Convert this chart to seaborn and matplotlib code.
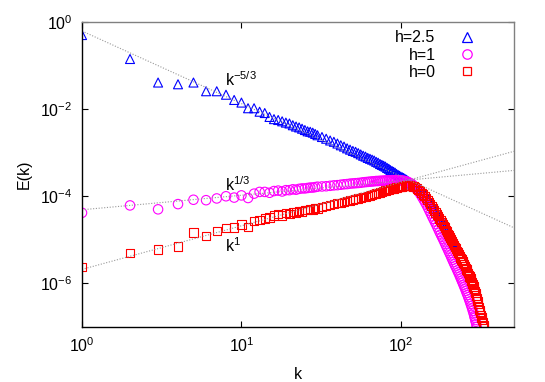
import numpy as np
import pandas as pd
import matplotlib
matplotlib.use("Agg")
import matplotlib.pyplot as plt
from matplotlib.lines import Line2D
import seaborn as sns

# wavenumbers (integer shells) and energy spectra, stored as log10 E
k_h25 = list(range(1, 31)) + list(range(32, 113, 2)) + list(range(115, 221, 3))
logE_h25 = [
    -0.30, -0.85, -1.39, -1.43, -1.39, -1.59, -1.59, -1.67, -1.79, -1.85,
    -1.98, -1.98, -2.06, -2.09, -2.18, -2.23, -2.25, -2.28, -2.31, -2.33,
    -2.37, -2.40, -2.42, -2.45, -2.48, -2.51, -2.52, -2.54, -2.57, -2.60,
    # 32 .. 112
    -2.64, -2.68, -2.72, -2.75, -2.79, -2.83, -2.86, -2.90, -2.93, -2.96,
    -2.98, -3.01, -3.04, -3.07, -3.09, -3.12, -3.14, -3.16, -3.18, -3.21,
    -3.23, -3.26, -3.28, -3.30, -3.32, -3.35, -3.37, -3.40, -3.42, -3.44,
    -3.46, -3.49, -3.51, -3.53, -3.55, -3.565, -3.58, -3.60, -3.62, -3.64,
    -3.66,
    # 115 .. 220
    -3.70, -3.735, -3.76, -3.775, -3.795, -3.82, -3.855, -3.89, -3.93, -3.97,
    -4.01, -4.055, -4.10, -4.15, -4.20, -4.25, -4.30, -4.34, -4.39, -4.43,
    -4.48, -4.52, -4.56, -4.61, -4.65, -4.69, -4.74, -4.78, -4.83, -4.87,
    -4.92, -4.96, -5.00, -5.05, -5.09, -5.13,
]

k_h1 = (list(range(1, 31)) + list(range(32, 113, 2)) + list(range(115, 290, 3))
        + [291, 293, 295, 297, 299])
logE_h1 = [
    -4.38, -4.21, -4.30, -4.18, -4.08, -4.09, -4.05, -4.00, -4.03, -3.98,
    -4.04, -3.94, -3.90, -3.90, -3.92, -3.88, -3.87, -3.89, -3.86, -3.86,
    -3.84, -3.85, -3.83, -3.82, -3.82, -3.81, -3.80, -3.80, -3.79, -3.78,
    # 32 .. 112
    -3.775, -3.77, -3.76, -3.75, -3.745, -3.735, -3.725, -3.72, -3.71, -3.705,
    -3.70, -3.695, -3.69, -3.68, -3.675, -3.67, -3.665, -3.66, -3.655, -3.65,
    -3.65, -3.645, -3.645, -3.64, -3.64, -3.635, -3.635, -3.635, -3.63, -3.63,
    -3.63, -3.63, -3.63, -3.635, -3.635, -3.64, -3.645, -3.65, -3.66, -3.67,
    -3.68,
    # 115 .. 289
    -3.70, -3.73, -3.77, -3.81, -3.855, -3.905, -3.96, -4.02, -4.08, -4.14,
    -4.20, -4.265, -4.33, -4.395, -4.46, -4.52, -4.58, -4.64, -4.70, -4.76,
    -4.82, -4.875, -4.93, -4.985, -5.04, -5.095, -5.15, -5.20, -5.255, -5.305,
    -5.355, -5.41, -5.46, -5.51, -5.56, -5.605, -5.65, -5.70, -5.745, -5.79,
    -5.84, -5.885, -5.935, -5.98, -6.03, -6.075, -6.12, -6.17, -6.22, -6.265,
    -6.315, -6.365, -6.415, -6.47, -6.52, -6.575, -6.63, -6.69, -6.75,
    # 291 .. 299
    -6.79, -6.84, -6.88, -6.93, -7.00,
]

k_h0 = list(range(1, 31)) + list(range(32, 113, 2)) + list(range(114, 331, 3)) + [332]
logE_h0 = [
    -5.62, -5.30, -5.22, -5.15, -4.83, -4.91, -4.80, -4.73, -4.72, -4.65,
    -4.70, -4.57, -4.54, -4.51, -4.49, -4.44, -4.40, -4.44, -4.39, -4.41,
    -4.36, -4.37, -4.34, -4.35, -4.31, -4.32, -4.29, -4.30, -4.27, -4.28,
    # 32 .. 112
    -4.25, -4.23, -4.20, -4.18, -4.16, -4.15, -4.13, -4.11, -4.10, -4.08,
    -4.06, -4.05, -4.04, -4.02, -4.01, -3.995, -3.98, -3.965, -3.95, -3.935,
    -3.92, -3.91, -3.90, -3.885, -3.87, -3.86, -3.85, -3.84, -3.83, -3.82,
    -3.81, -3.80, -3.79, -3.785, -3.78, -3.775, -3.77, -3.76, -3.755, -3.75,
    -3.75,
    # 114 .. 330, 332
    -3.75, -3.76, -3.775, -3.795, -3.82, -3.85, -3.885, -3.92, -3.96, -4.00,
    -4.04, -4.085, -4.13, -4.18, -4.23, -4.28, -4.33, -4.37, -4.42, -4.46,
    -4.51, -4.55, -4.59, -4.64, -4.68, -4.72, -4.77, -4.81, -4.86, -4.90,
    -4.95, -4.99, -5.03, -5.08, -5.12, -5.16, -5.20, -5.25, -5.29, -5.33,
    -5.37, -5.41, -5.45, -5.48, -5.52, -5.56, -5.60, -5.64, -5.68, -5.72,
    -5.76, -5.80, -5.84, -5.88, -5.93, -5.97, -6.02, -6.07, -6.12, -6.17,
    -6.22, -6.28, -6.34, -6.41, -6.48, -6.54, -6.61, -6.67, -6.72, -6.78,
    -6.84, -6.90, -6.95, -6.98,
]

series_labels = ["h=2.5", "h=1", "h=0"]
series_colors = ["#0000ff", "#ff00ff", "#ff0000"]
series_markers = ["^", "o", "s"]
series_sizes = [42, 46, 36]

# power-law guide lines: amplitude * k**exponent
guide_amp = [0.62, 4.9e-5, 2.1e-6]
guide_exp = [-5 / 3, 1 / 3, 1.0]
guide_k = [1, 512]
guide_text = [r"$\mathrm{k^{-5/3}}$", r"$\mathrm{k^{1/3}}$", r"$\mathrm{k^{1}}$"]
guide_text_pos = [(7.9, 0.034), (7.9, 1.3e-4), (7.9, 5.3e-6)]

plt.rcParams["font.family"] = ["Liberation Sans", "DejaVu Sans"]
plt.rcParams["mathtext.fontset"] = "custom"
plt.rcParams["mathtext.rm"] = "Liberation Sans"
plt.rcParams["mathtext.it"] = "Liberation Sans"
plt.rcParams["font.size"] = 11.5

fig = plt.figure(figsize=(5.45, 3.82), dpi=100)
ax = fig.add_axes([0.1505, 0.144, 0.7925, 0.7985])

for amp, ex in zip(guide_amp, guide_exp):
    gdf = pd.DataFrame({"k": guide_k, "E": [amp * kk ** ex for kk in guide_k]})
    sns.lineplot(data=gdf, x="k", y="E", ax=ax, color="#999999", lw=0.8,
                 linestyle=(0, (1, 1.5)), legend=False)

spectra = [(k_h25, logE_h25), (k_h1, logE_h1), (k_h0, logE_h0)]
handles = []
for (kk, le), lab, col, mk, sz in zip(spectra, series_labels, series_colors,
                                       series_markers, series_sizes):
    df = pd.DataFrame({"k": kk, "E": 10.0 ** np.array(le)})
    sns.scatterplot(data=df, x="k", y="E", ax=ax, marker=mk, s=sz,
                    facecolor="none", edgecolor=col, linewidth=0.8, legend=False)
    handles.append(Line2D([], [], linestyle="none", color=col, marker=mk,
                          markersize=np.sqrt(sz), markerfacecolor="none",
                          markeredgecolor=col, markeredgewidth=0.9, label=lab))

for txt, (tx, ty) in zip(guide_text, guide_text_pos):
    ax.text(tx, ty, txt, fontsize=11.5, ha="left", va="baseline")

ax.set_xscale("log")
ax.set_yscale("log")
ax.set_xlim(1, 512)
ax.set_ylim(1e-7, 1)
ax.set_xticks([1, 10, 100])
ax.set_yticks([1, 1e-2, 1e-4, 1e-6])
ax.minorticks_off()
ax.tick_params(direction="in", length=4, width=0.8, top=True, right=True,
               pad=7, labelsize=11.5)
ax.set_xlabel("k", labelpad=8)
ax.set_ylabel("E(k)", labelpad=6)
for side in ["left", "bottom"]:
    ax.spines[side].set_color("black")
for side in ["top", "right"]:
    ax.spines[side].set_color("#808080")
for sp in ax.spines.values():
    sp.set_linewidth(1.0)

ax.legend(handles=handles, loc="upper right", bbox_to_anchor=(0.944, 0.993),
          markerfirst=False, frameon=False, handletextpad=1.0, labelspacing=0.13,
          borderaxespad=0.0, fontsize=11.5)

fig.savefig("out.png", dpi=100)
